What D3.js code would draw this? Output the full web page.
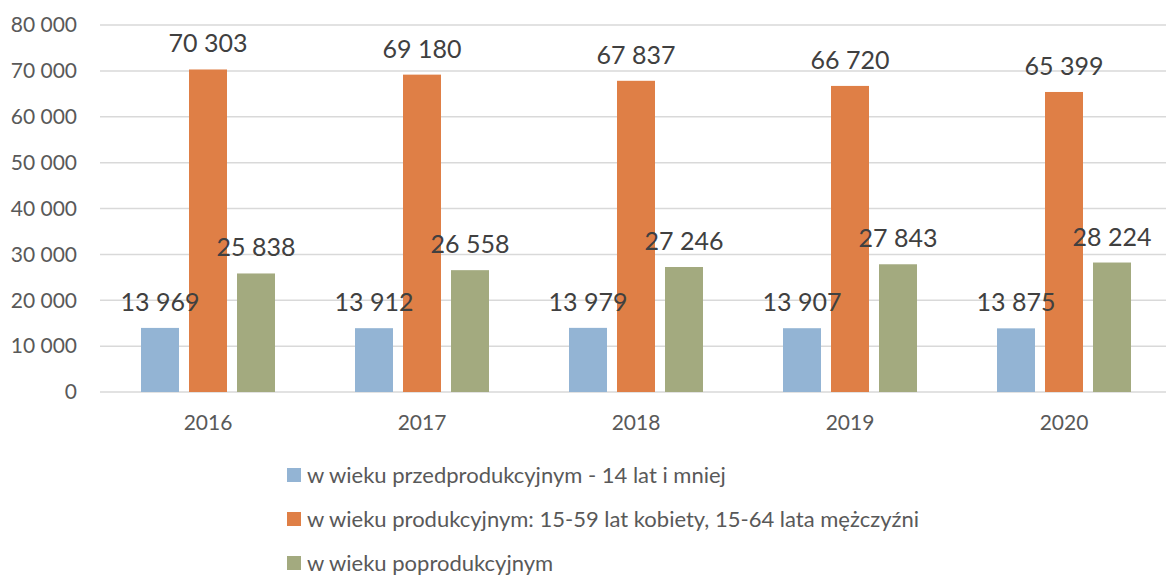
<!DOCTYPE html>
<html lang="pl">
<head>
<meta charset="utf-8">
<title>Ludność według ekonomicznych grup wieku</title>
<style>
  body { margin: 0; background: #fff; }
  svg text { font-family: Lato, "Open Sans", sans-serif; }
</style>
</head>
<body>
<svg id="chart" width="1166" height="576"></svg>
<script src="https://d3js.org/d3.v7.min.js"></script>
<script>
const years = ["2016", "2017", "2018", "2019", "2020"];
const seriesNames = [
  "w wieku przedprodukcyjnym - 14 lat i mniej",
  "w wieku produkcyjnym: 15-59 lat kobiety, 15-64 lata mężczyźni",
  "w wieku poprodukcyjnym"
];
const preProd = [13969, 13912, 13979, 13907, 13875];
const prod = [70303, 69180, 67837, 66720, 65399];
const postProd = [25838, 26558, 27246, 27843, 28224];
const yTicks = [0, 10000, 20000, 30000, 40000, 50000, 60000, 70000, 80000];
const colors = ["#93B4D4", "#DF7F46", "#A3AA7F"];

const series = [preProd, prod, postProd];
const svg = d3.select("#chart");

const fmt = v => d3.format(",")(v).replace(/,/g, " ");

const x = d3.scaleBand().domain(years).range([101, 1171]);
const y = d3.scaleLinear().domain([0, 80000]).range([392, 25]);
const barW = 38, barGap = 10;
const barX = (si, i) => x(years[i]) + x.bandwidth() / 2 + (si - 1) * (barW + barGap) - barW / 2;

// gridlines
svg.append("g")
  .selectAll("line")
  .data(yTicks)
  .join("line")
  .attr("x1", 100).attr("x2", 1166)
  .attr("y1", d => y(d)).attr("y2", d => y(d))
  .attr("stroke", "#D9D9D9").attr("stroke-width", 1.5);

// y labels
svg.append("g")
  .selectAll("text")
  .data(yTicks)
  .join("text")
  .attr("x", 77).attr("y", d => y(d))
  .attr("dy", "0.35em")
  .attr("text-anchor", "end")
  .attr("font-size", 21)
  .attr("fill", "#595959")
  .text(d => fmt(d));

// x labels
svg.append("g")
  .selectAll("text")
  .data(years)
  .join("text")
  .attr("x", d => x(d) + x.bandwidth() / 2)
  .attr("y", 430)
  .attr("text-anchor", "middle")
  .attr("font-size", 21)
  .attr("fill", "#595959")
  .text(d => d);

// bars
series.forEach((vals, si) => {
  svg.append("g")
    .selectAll("rect")
    .data(vals)
    .join("rect")
    .attr("x", (d, i) => barX(si, i))
    .attr("width", barW)
    .attr("y", d => y(d))
    .attr("height", d => y(0) - y(d))
    .attr("fill", colors[si]);
});

// value labels drawn above all bars
series.forEach((vals, si) => {
  svg.append("g")
    .selectAll("text")
    .data(vals)
    .join("text")
    .attr("x", (d, i) => barX(si, i) + barW / 2)
    .attr("y", d => y(d) - 17)
    .attr("text-anchor", "middle")
    .attr("font-size", 25)
    .attr("fill", "#404040")
    .text(d => fmt(d));
});

// legend
const leg = svg.append("g")
  .selectAll("g")
  .data(seriesNames)
  .join("g")
  .attr("transform", (d, i) => `translate(287,${475 + i * 44})`);
leg.append("rect")
  .attr("x", 0).attr("y", -7)
  .attr("width", 14).attr("height", 14)
  .attr("fill", (d, i) => colors[i]);
leg.append("text")
  .attr("x", 20).attr("y", 0)
  .attr("dy", "0.35em")
  .attr("font-size", 22)
  .attr("fill", "#595959")
  .text(d => d);
</script>
</body>
</html>
